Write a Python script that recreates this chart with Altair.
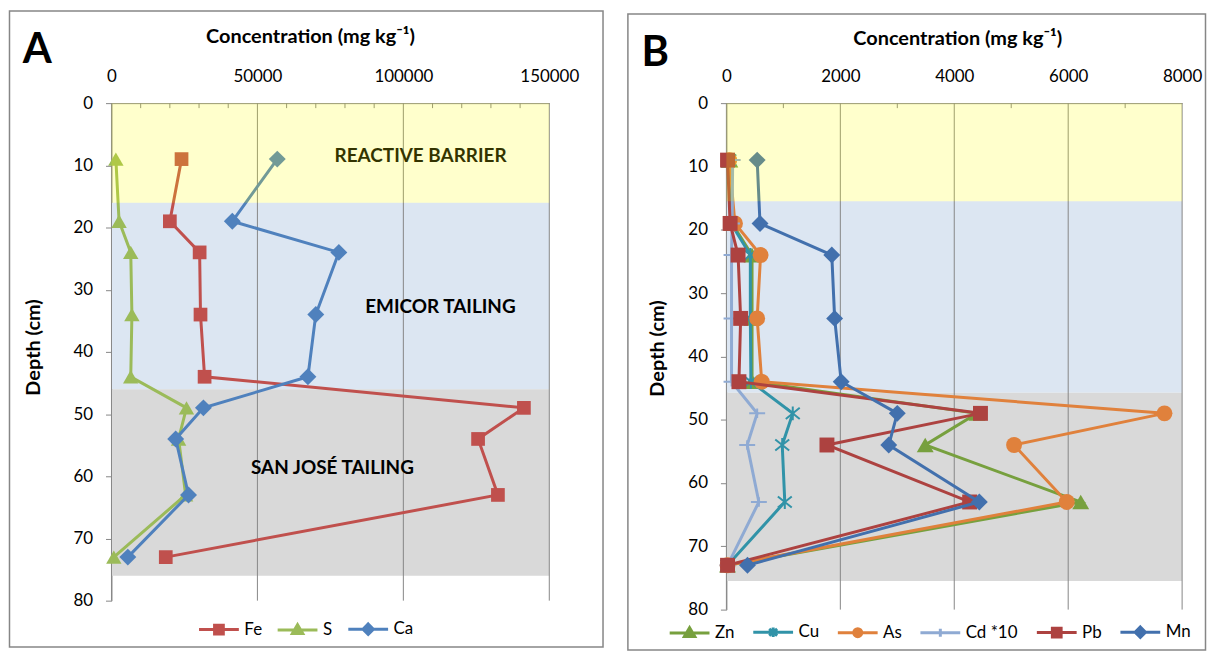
import altair as alt
import pandas as pd

FONT = "Lato"
GRAY = "#868686"

depth = [9, 19, 24, 34, 44, 49, 54, 63, 73]
depth_ticks = [0, 10, 20, 30, 40, 50, 60, 70, 80]

# ---------------- Panel A ----------------
a_names = ["Fe", "S", "Ca"]
a_fe = [24000, 20000, 30200, 30500, 31900, 141300, 125600, 132400, 18600]
a_s = [1500, 2600, 6600, 7000, 6600, 25700, 23000, 25400, 800]
a_ca = [56800, 41400, 77900, 70000, 67300, 31500, 22000, 26400, 5600]
a_colors = ["#C0504D", "#9BBB59", "#4F81BD"]
a_xticks = [0, 50000, 100000, 150000]
a_minor = [10000, 20000, 30000, 40000, 60000, 70000, 80000, 90000,
           110000, 120000, 130000, 140000]
a_bands = [0, 16, 46, 76]
a_labels = ["REACTIVE BARRIER", "EMICOR TAILING", "SAN JOSÉ TAILING"]
a_label_x = [105900, 112700, 75700]
a_label_depth = [8.5, 32.8, 58.6]

# ---------------- Panel B ----------------
b_names = ["Zn", "Cu", "As", "Cd *10", "Pb", "Mn"]
b_zn = [60, 100, 450, 450, 450, 4400, 3490, 6220, 20]
b_cu = [50, 80, 420, 420, 430, 1165, 980, 1025, 20]
b_as = [50, 150, 600, 540, 620, 7690, 5050, 5975, 20]
b_cd10 = [110, 100, 90, 90, 90, 540, 365, 570, 20]
b_pb = [20, 65, 205, 250, 220, 4460, 1765, 4270, 20]
b_mn = [540, 590, 1850, 1900, 2015, 3000, 2850, 4440, 370]
b_colors = ["#77A03E", "#3193A8", "#E0813C", "#8FAAD3", "#AD4240", "#4270AD"]
b_xticks = [0, 2000, 4000, 6000, 8000]
b_minor = [1000, 3000, 5000, 7000]
b_bands = [0, 15.5, 45.75, 75.5]

ASTER = "M-1,-0.8L1,0.8M-1,0.8L1,-0.8M0,-1V1"
PLUS = "M-1,0H1M0,-0.6V0.6"

L_SQUARE = "M-1,0H1M-0.22,-0.22H0.22V0.22H-0.22Z"
L_TRI = "M-1,0H1M0,-0.27L0.26,0.17H-0.26Z"
L_DIAM = "M-1,0H1M0,-0.26L0.26,0L0,0.26L-0.26,0Z"
L_CIRC = "M-1,0H1M-0.2,0A0.2,0.2,0,1,0,0.2,0A0.2,0.2,0,1,0,-0.2,0Z"
L_ASTER = "M-1,0H1M-0.2,-0.17L0.2,0.17M-0.2,0.17L0.2,-0.17M0,-0.24V0.24"
L_PLUS = "M-1,0H1M0,-0.2V0.2"


def panel(names, values, colors, markers, legend_shapes, xmax, xticks, minor,
          bands, width, height, frame, letter, letter_xy, legend_xy, columns,
          col_pad, xtitle_xy, ytitle_xy, labels=None):
    xscale = alt.Scale(domain=[0, xmax], nice=False, zero=True)
    yscale = alt.Scale(domain=[0, 80], nice=False, reverse=True)
    xaxis = alt.Axis(orient="top", values=xticks, format="d", labelFont=FONT,
                     labelFontSize=17, labelColor="black", labelPadding=18,
                     labelFlush=False, labelOverlap=False, ticks=False, tickSize=0,
                     domainColor=GRAY, grid=False,
                     title="Concentration (mg kg⁻¹)", titleFont=FONT,
                     titleFontSize=20, titleFontWeight="bold", titleColor="black",
                     titleX=xtitle_xy[0], titleY=xtitle_xy[1],
                     titleBaseline="middle", titleAlign="center")
    yaxis = alt.Axis(orient="left", values=depth_ticks, labelFont=FONT,
                     labelFontSize=17, labelColor="black", labelPadding=13,
                     tickSize=6, tickColor=GRAY, domainColor=GRAY, grid=False,
                     title="Depth (cm)", titleFont=FONT, titleFontSize=20,
                     titleFontWeight="bold", titleColor="black",
                     titleX=ytitle_xy[0], titleY=ytitle_xy[1],
                     titleBaseline="middle", titleAlign="center")
    X = alt.X("conc:Q", scale=xscale, axis=xaxis)
    Y = alt.Y("depth:Q", scale=yscale, axis=yaxis)

    layers = []
    one = pd.DataFrame({"k": [0]})
    layers.append(
        alt.Chart(one).mark_rect(fill="transparent", stroke=GRAY, strokeWidth=1.5)
        .encode(x=alt.value(frame[0]), x2=alt.value(frame[1]),
                y=alt.value(frame[2]), y2=alt.value(frame[3])))

    for i, col in [(1, "#DCE6F2"), (2, "#D9D9D9")]:
        bdf = pd.DataFrame({"conc": [0], "conc2": [xmax],
                            "depth": [bands[i]], "depth2": [bands[i + 1]]})
        layers.append(alt.Chart(bdf).mark_rect(color=col)
                      .encode(x=X, x2="conc2", y=Y, y2="depth2"))

    gdf = pd.DataFrame({"conc": xticks})
    layers.append(alt.Chart(gdf).mark_rule(color=GRAY, strokeWidth=1).encode(x=X))
    mdf = pd.DataFrame({"conc": minor})
    layers.append(alt.Chart(mdf).mark_rule(color=GRAY, strokeWidth=1)
                  .encode(x=X, y=alt.value(0), y2=alt.value(5)))

    for name, vals, col, mk in zip(names, values, colors, markers):
        df = pd.DataFrame({"conc": vals, "depth": depth})
        layers.append(alt.Chart(df).mark_line(color=col, strokeWidth=3)
                      .encode(x=X, y=Y, order="depth:Q"))
        shape, size, filled = mk
        if filled:
            pt = alt.Chart(df).mark_point(shape=shape, size=size, filled=True,
                                          color=col, opacity=1)
        else:
            pt = alt.Chart(df).mark_point(shape=shape, size=size, filled=False,
                                          color=col, strokeWidth=2, opacity=1)
        layers.append(pt.encode(x=X, y=Y))

    leg_kwargs = dict(orient="none", legendX=legend_xy[0], legendY=legend_xy[1],
                      direction="horizontal", title=None,
                      labelFont=FONT, labelFontSize=17, labelColor="black",
                      labelOffset=4, columnPadding=col_pad, symbolSize=1600,
                      symbolStrokeWidth=3, padding=0)
    if columns:
        leg_kwargs["columns"] = columns
    leg = alt.Legend(**leg_kwargs)
    ldf = pd.DataFrame({"series": names, "conc": [0.0] * len(names),
                        "depth": [0.0] * len(names)})
    layers.append(
        alt.Chart(ldf).mark_point(filled=True, opacity=1)
        .transform_filter("false")
        .encode(
            x=X, y=Y,
            fill=alt.Fill("series:N", scale=alt.Scale(domain=names, range=colors), legend=leg),
            stroke=alt.Stroke("series:N", scale=alt.Scale(domain=names, range=colors), legend=leg),
            shape=alt.Shape("series:N", scale=alt.Scale(domain=names, range=legend_shapes), legend=leg)))

    if labels is not None:
        tdf = pd.DataFrame({"label": labels[0], "conc": labels[1], "depth": labels[2]})
        layers.append(alt.Chart(tdf).mark_text(font=FONT, fontSize=19, fontWeight="bold",
                                               color="black", align="center",
                                               baseline="middle")
                      .encode(x=X, y=Y, text="label:N"))

    ydf = pd.DataFrame({"conc": [0], "conc2": [xmax], "depth": [bands[0]], "depth2": [bands[1]]})
    layers.append(alt.Chart(ydf).mark_rect(color="#FFFF00", opacity=0.2)
                  .encode(x=X, x2="conc2", y=Y, y2="depth2"))

    layers.append(alt.Chart(one).mark_text(text=letter, font=FONT, fontSize=42,
                                           fontWeight="bold", color="black",
                                           align="center", baseline="middle")
                  .encode(x=alt.value(letter_xy[0]), y=alt.value(letter_xy[1])))

    return alt.layer(*layers).properties(width=width, height=height)


chart_a = panel(
    a_names, [a_fe, a_s, a_ca], a_colors,
    [("square", 190, True), ("triangle-up", 240, True), ("diamond", 289, True)],
    [L_SQUARE, L_TRI, L_DIAM],
    150000, a_xticks, a_minor, a_bands, 440, 500,
    frame=(-102.5, 494, -92.5, 546.5), letter="A", letter_xy=(-74.5, -53),
    legend_xy=(86.5, 507), columns=None, col_pad=9,
    xtitle_xy=(199.5, -67), ytitle_xy=(-78, 245),
    labels=(a_labels, a_label_x, a_label_depth))

chart_b = panel(
    b_names, [b_zn, b_cu, b_as, b_cd10, b_pb, b_mn], b_colors,
    [("triangle-up", 289, True), (ASTER, 196, False), ("circle", 256, True),
     (PLUS, 256, False), ("square", 225, True), ("diamond", 289, True)],
    [L_TRI, L_ASTER, L_CIRC, L_PLUS, L_SQUARE, L_DIAM],
    8000, b_xticks, b_minor, b_bands, 458, 509,
    frame=(-99, 481.5, -89.5, 549.5), letter="B", letter_xy=(-71.5, -50),
    legend_xy=(-58.5, 510), columns=6, col_pad=12,
    xtitle_xy=(232, -65), ytitle_xy=(-69.5, 246))

chart = (alt.hconcat(chart_a, chart_b, spacing=21)
         .resolve_scale(fill="independent", stroke="independent", shape="independent",
                        color="independent", x="independent", y="independent")
         .resolve_legend(fill="independent", stroke="independent", shape="independent")
         .properties(padding=0)
         .configure(font=FONT)
         .configure_view(stroke="transparent"))

chart.save("out.html", embed_options={"renderer": "svg", "actions": False})
